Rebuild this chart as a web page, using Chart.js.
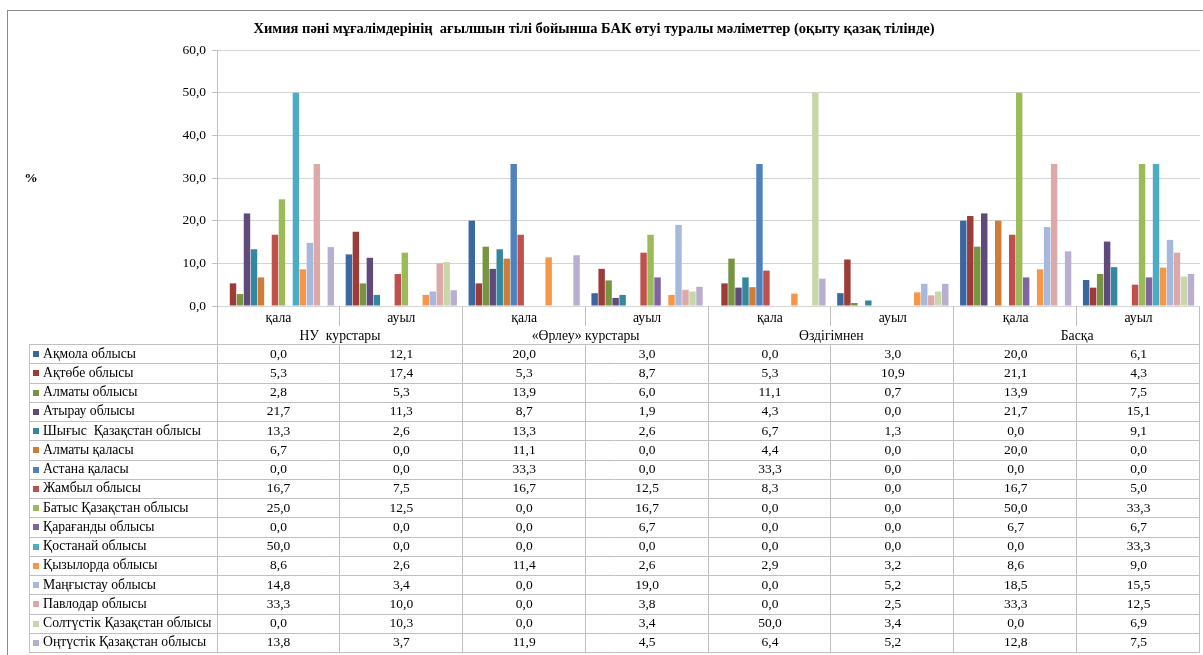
<!DOCTYPE html>
<html>
<head>
<meta charset="utf-8">
<title>Химия пәні мұғалімдерінің ағылшын тілі бойынша БАК өтуі</title>
<style>
    html, body { margin: 0; padding: 0; background: #fff; }
    #wrap { position: relative; width: 1203px; height: 655px; }
</style>
<script src="https://cdn.jsdelivr.net/npm/chart.js@4.4.0/dist/chart.umd.min.js"></script>
</head>
<body>
<div id="wrap"><canvas id="chart" width="1203" height="655"></canvas></div>
<script>
// categories (x axis) and their groups
const categories = ['қала', 'ауыл', 'қала', 'ауыл', 'қала', 'ауыл', 'қала', 'ауыл'];
const groups = ['НУ  курстары', '«Өрлеу» курстары', 'Өздігімнен', 'Басқа'];

// y axis
const yMax = 60;
const yStep = 10;

// series values, one list per region (%)
const akmola     = [0.0, 12.1, 20.0, 3.0, 0.0, 3.0, 20.0, 6.1];
const aktobe     = [5.3, 17.4, 5.3, 8.7, 5.3, 10.9, 21.1, 4.3];
const almaty     = [2.8, 5.3, 13.9, 6.0, 11.1, 0.7, 13.9, 7.5];
const atyrau     = [21.7, 11.3, 8.7, 1.9, 4.3, 0.0, 21.7, 15.1];
const shygys     = [13.3, 2.6, 13.3, 2.6, 6.7, 1.3, 0.0, 9.1];
const almatyCity = [6.7, 0.0, 11.1, 0.0, 4.4, 0.0, 20.0, 0.0];
const astana     = [0.0, 0.0, 33.3, 0.0, 33.3, 0.0, 0.0, 0.0];
const zhambyl    = [16.7, 7.5, 16.7, 12.5, 8.3, 0.0, 16.7, 5.0];
const batys      = [25.0, 12.5, 0.0, 16.7, 0.0, 0.0, 50.0, 33.3];
const karagandy  = [0.0, 0.0, 0.0, 6.7, 0.0, 0.0, 6.7, 6.7];
const kostanay   = [50.0, 0.0, 0.0, 0.0, 0.0, 0.0, 0.0, 33.3];
const kyzylorda  = [8.6, 2.6, 11.4, 2.6, 2.9, 3.2, 8.6, 9.0];
const mangystau  = [14.8, 3.4, 0.0, 19.0, 0.0, 5.2, 18.5, 15.5];
const pavlodar   = [33.3, 10.0, 0.0, 3.8, 0.0, 2.5, 33.3, 12.5];
const soltustik  = [0.0, 10.3, 0.0, 3.4, 50.0, 3.4, 0.0, 6.9];
const ontustik   = [13.8, 3.7, 11.9, 4.5, 6.4, 5.2, 12.8, 7.5];

const series = [
    { name: 'Ақмола облысы', values: akmola, color: '#3B67A0' },
    { name: 'Ақтөбе облысы', values: aktobe, color: '#9C3B38' },
    { name: 'Алматы облысы', values: almaty, color: '#779441' },
    { name: 'Атырау облысы', values: atyrau, color: '#604A7C' },
    { name: 'Шығыс  Қазақстан облысы', values: shygys, color: '#33889F' },
    { name: 'Алматы қаласы', values: almatyCity, color: '#D07B36' },
    { name: 'Астана қаласы', values: astana, color: '#4F81BD' },
    { name: 'Жамбыл облысы', values: zhambyl, color: '#C0504D' },
    { name: 'Батыс Қазақстан облысы', values: batys, color: '#9BBB59' },
    { name: 'Қарағанды облысы', values: karagandy, color: '#8064A2' },
    { name: 'Қостанай облысы', values: kostanay, color: '#4BACC6' },
    { name: 'Қызылорда облысы', values: kyzylorda, color: '#F79646' },
    { name: 'Маңғыстау облысы', values: mangystau, color: '#A6B9DC' },
    { name: 'Павлодар облысы', values: pavlodar, color: '#DCA9A8' },
    { name: 'Солтүстік Қазақстан облысы', values: soltustik, color: '#C6D7A9' },
    { name: 'Оңтүстік Қазақстан облысы', values: ontustik, color: '#B9AECF' }
];

const title = 'Химия пәні мұғалімдерінің  ағылшын тілі бойынша БАК өтуі туралы мәліметтер (оқыту қазақ тілінде)';
const serif = '"Liberation Serif", "DejaVu Serif", serif';
const fmt = v => v.toFixed(1).replace('.', ',');

// table under the plot (data table + legend keys)
const tablePlugin = {
    id: 'dataTable',
    afterDraw(chart) {
        const ctx = chart.ctx;
        const area = chart.chartArea;
        const x = chart.scales.x;
        const colW = (area.right - area.left) / categories.length;
        const tableLeft = 29;
        const tableTop = 344;
        const rowH = 19.25;
        const tableBottom = tableTop + rowH * series.length;

        ctx.save();

        // outer frame
        ctx.strokeStyle = '#8c8c8c';
        ctx.lineWidth = 1;
        ctx.strokeRect(7.5, 10.5, 1210, 700);

        // title
        ctx.fillStyle = '#000';
        ctx.font = 'bold 14.5px ' + serif;
        ctx.textAlign = 'center';
        ctx.textBaseline = 'middle';
        ctx.fillText(title, 594, 29);

        // y axis name
        ctx.font = 'bold 13.5px ' + serif;
        ctx.fillText('%', 31, 179);

        // lines
        ctx.strokeStyle = '#bfbfbf';
        ctx.beginPath();
        // y axis continued down through the table
        ctx.moveTo(area.left + 0.5, area.bottom);
        ctx.lineTo(area.left + 0.5, tableBottom);
        for (let i = 1; i <= categories.length; i++) {
            const bx = Math.round(area.left + i * colW) - 0.5;
            if (i % 2 === 0) {
                ctx.moveTo(bx, area.bottom);
                ctx.lineTo(bx, tableBottom);
            } else {
                ctx.moveTo(bx, area.bottom);
                ctx.lineTo(bx, area.bottom + 20);
                ctx.moveTo(bx, tableTop);
                ctx.lineTo(bx, tableBottom);
            }
        }
        ctx.moveTo(tableLeft + 0.5, tableTop);
        ctx.lineTo(tableLeft + 0.5, tableBottom);
        for (let r = 0; r <= series.length; r++) {
            const y = Math.round(tableTop + r * rowH) + 0.5;
            ctx.moveTo(tableLeft, y);
            ctx.lineTo(area.right, y);
        }
        ctx.stroke();

        // category and group labels
        ctx.fillStyle = '#000';
        ctx.font = '13.7px ' + serif;
        ctx.textAlign = 'center';
        categories.forEach((c, i) => {
            ctx.fillText(c, x.getPixelForValue(i), area.bottom + 12);
        });
        groups.forEach((g, i) => {
            ctx.fillText(g, area.left + (i * 2 + 1) * colW, area.bottom + 30);
        });

        // rows
        series.forEach((s, r) => {
            const cy = tableTop + r * rowH + rowH / 2 + 0.5;
            ctx.fillStyle = s.color;
            ctx.fillRect(33, Math.round(cy - 3), 6, 6);
            ctx.fillStyle = '#000';
            ctx.textAlign = 'left';
            ctx.font = '13.7px ' + serif;
            ctx.fillText(s.name, 43, cy);
            ctx.textAlign = 'center';
            ctx.font = '13.5px ' + serif;
            s.values.forEach((v, i) => {
                ctx.fillText(fmt(v), x.getPixelForValue(i), cy);
            });
        });

        ctx.restore();
    }
};

new Chart(document.getElementById('chart'), {
    type: 'bar',
    data: {
        labels: categories,
        datasets: series.map(s => ({
            label: s.name,
            data: s.values,
            backgroundColor: s.color,
            borderWidth: 0,
            categoryPercentage: 0.91,
            barPercentage: 0.92
        }))
    },
    options: {
        responsive: false,
        animation: false,
        layout: { padding: { top: 50, bottom: 349, left: 0, right: 3 } },
        plugins: {
            legend: { display: false },
            tooltip: { enabled: false }
        },
        scales: {
            x: { display: false },
            y: {
                min: 0,
                max: yMax,
                ticks: {
                    stepSize: yStep,
                    callback: v => fmt(v),
                    color: '#000',
                    padding: 6,
                    font: { family: serif, size: 13.5 }
                },
                grid: { color: '#d4d4d4', tickLength: 5, tickColor: '#bfbfbf' },
                border: { color: '#bfbfbf' },
                afterFit: scale => { scale.width = 217; }
            }
        }
    },
    plugins: [tablePlugin]
});
</script>
</body>
</html>
